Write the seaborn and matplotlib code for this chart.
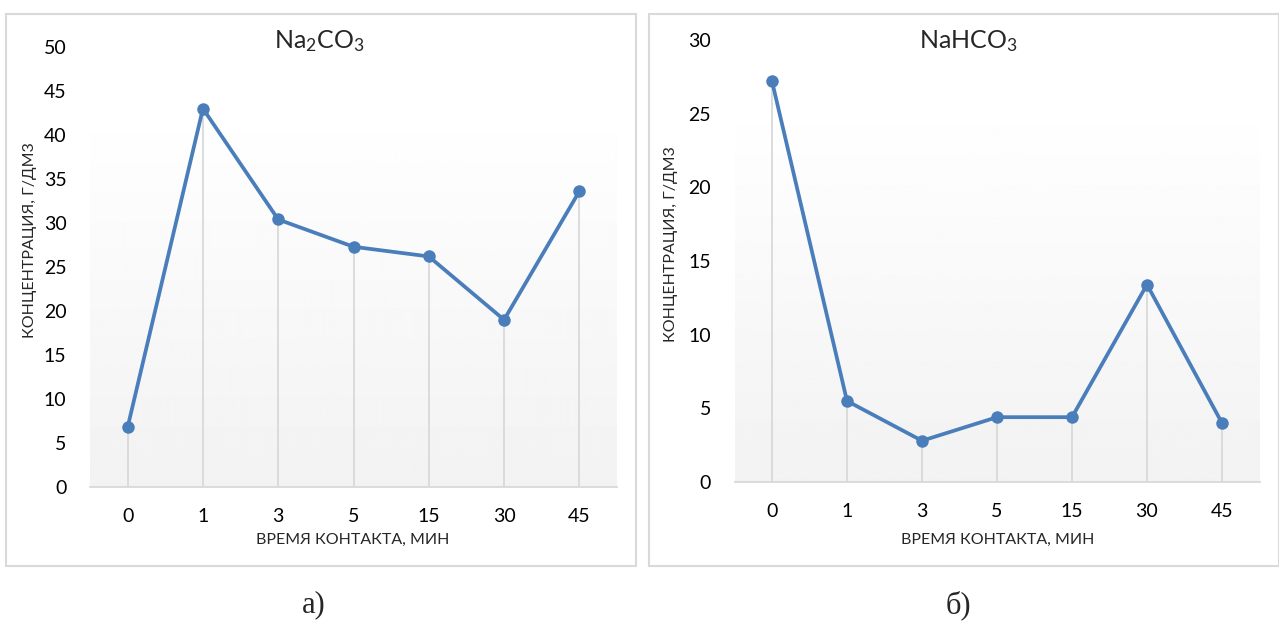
import numpy as np
import pandas as pd
import matplotlib.pyplot as plt
import matplotlib.patches as mpatches
import seaborn as sns

# contact time categories (min) and concentrations (g/dm3)
times = ['0', '1', '3', '5', '15', '30', '45']
na2co3 = [6.8, 43.0, 30.4, 27.3, 26.2, 19.0, 33.6]
nahco3 = [27.2, 5.5, 2.8, 4.4, 4.4, 13.4, 4.0]

titles = [r'$\mathregular{Na_2CO_3}$', r'$\mathregular{NaHCO_3}$']
captions = ['а)', 'б)']
ymax = [50, 30]
ystep = [5, 5]

sns.set_style('white')
plt.rcParams['font.family'] = ['Lato', 'DejaVu Sans']

LINE = '#4a7ebb'
GRID = '#d9d9d9'

fig = plt.figure(figsize=(12.79, 6.29), dpi=100)
W, H = 1279, 629

# pixel layout: axes box (left, top-of-range, right, bottom), gradient top, panel frames
ax_px = [(90, 47, 617, 487), (734.5, 40, 1259.5, 482)]
grad_top = [103, 97]
panel_px = [(6, 14, 636, 566), (649, 14, 1279, 566)]
title_px = [(319, 41), (968, 41)]
xlab_px = [(353, 533), (998, 533)]
ylab_px = [(37, 240), (678, 244)]
cap_px = [(314, 605), (958, 605)]

grad = np.linspace(1.0, 0.949, 256).reshape(-1, 1)

for i, vals in enumerate([na2co3, nahco3]):
    l, t, r, b = ax_px[i]
    w, h = r - l, b - t
    ax = fig.add_axes([l / W, 1 - b / H, w / W, h / H])
    df = pd.DataFrame({'time': times, 'conc': vals})

    ax.imshow(grad, cmap='gray', vmin=0, vmax=1, aspect='auto',
              extent=[0, 1, 0, (b - grad_top[i]) / h], transform=ax.transAxes, zorder=0)

    ax.vlines(df['time'], 0, df['conc'], color=GRID, lw=1.3, zorder=1)
    sns.lineplot(data=df, x='time', y='conc', ax=ax, color=LINE, lw=2.7,
                 marker='o', markersize=9, markeredgewidth=0, zorder=3, sort=False)

    ax.set_xlim(-0.5, len(times) - 0.5)
    ax.set_ylim(0, ymax[i])
    ax.set_yticks(np.arange(0, ymax[i] + 1, ystep[i]))
    ax.tick_params(axis='both', length=0, labelsize=14, colors='#000000')
    ax.tick_params(axis='y', pad=17)
    ax.tick_params(axis='x', pad=15)
    for s in ['top', 'right', 'left']:
        ax.spines[s].set_visible(False)
    ax.spines['bottom'].set_color(GRID)
    ax.spines['bottom'].set_linewidth(1.3)
    ax.spines['bottom'].set_zorder(2)
    ax.patch.set_alpha(0)

    ax.set_xlabel('ВРЕМЯ КОНТАКТА, МИН', fontsize=11.5)
    ax.set_ylabel('КОНЦЕНТРАЦИЯ, Г/ДМ3', fontsize=11.5)
    xx, xy = xlab_px[i]
    ax.xaxis.set_label_coords((xx - l) / w, (b - xy) / h)
    yx, yy = ylab_px[i]
    ax.yaxis.set_label_coords((yx - l) / w, (b - yy) / h)

    tx, ty = title_px[i]
    ax.text((tx - l) / w, (b - ty) / h, titles[i], transform=ax.transAxes,
            ha='center', va='center', fontsize=18)

    px0, py0, px1, py1 = panel_px[i]
    fig.patches.append(mpatches.Rectangle((px0 / W, 1 - py1 / H), (px1 - px0) / W, (py1 - py0) / H,
                                          transform=fig.transFigure, fill=False,
                                          edgecolor=GRID, lw=1.5))
    cx, cy = cap_px[i]
    fig.text(cx / W, 1 - cy / H, captions[i], family='Liberation Serif', fontsize=22,
             ha='center', va='center')

fig.savefig('out.png', dpi=100, facecolor='white')
